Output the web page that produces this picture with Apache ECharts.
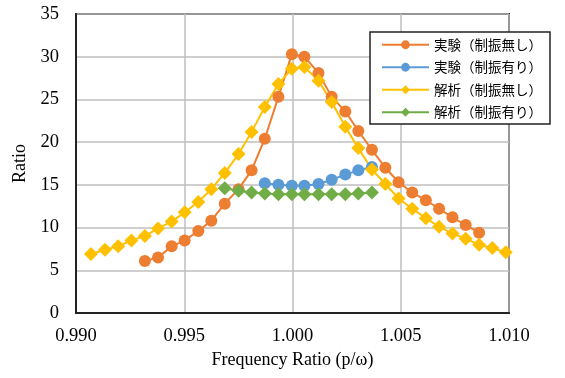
<!DOCTYPE html>
<html>
<head>
<meta charset="utf-8">
<script src="https://cdn.jsdelivr.net/npm/echarts@6/dist/echarts.min.js"></script>
<style>
    html, body { margin: 0; padding: 0; background: #fff; }
    #chart { width: 565px; height: 378px; }
</style>
</head>
<body>
<div id="chart"></div>
<script>
// 周波数比 (p/ω) — 全系列共通の測定点
const freqRatio = [
    0.99069, 0.99134, 0.99195, 0.99256, 0.99318, 0.99379, 0.99442, 0.99502,
    0.99565, 0.99625, 0.99687, 0.99751, 0.99811, 0.99872, 0.99935, 0.99997,
    1.00055, 1.00120, 1.00181, 1.00244, 1.00304, 1.00367, 1.00429, 1.00490,
    1.00553, 1.00616, 1.00677, 1.00739, 1.00800, 1.00862, 1.00923, 1.00985
];

// 実験（制振無し）: freqRatio[4] 〜 freqRatio[29]
const expNoDamp = [
    6.1, 6.5, 7.8, 8.5, 9.6, 10.8, 12.8, 14.5, 16.7, 20.4, 25.3, 30.3, 30.0,
    28.1, 25.3, 23.6, 21.3, 19.1, 17.0, 15.3, 14.1, 13.2, 12.2, 11.2, 10.3, 9.4
];
// 実験（制振有り）: freqRatio[13] 〜 freqRatio[21]
const expDamp = [15.2, 15.0, 14.9, 14.9, 15.1, 15.6, 16.2, 16.7, 17.1];
// 解析（制振無し）: freqRatio[0] 〜 freqRatio[31]
const anaNoDamp = [
    6.9, 7.4, 7.8, 8.5, 9.0, 9.9, 10.7, 11.8, 13.0, 14.5, 16.4, 18.6, 21.2,
    24.1, 26.8, 28.6, 28.8, 27.2, 24.7, 21.8, 19.3, 16.8, 15.1, 13.4, 12.2,
    11.1, 10.1, 9.3, 8.7, 8.0, 7.6, 7.1
];
// 解析（制振有り）: freqRatio[10] 〜 freqRatio[21]
const anaDamp = [14.6, 14.3, 14.1, 14.0, 13.9, 13.9, 13.9, 13.9, 13.9, 13.9, 14.0, 14.1];

const seriesNames = ["実験（制振無し）", "実験（制振有り）", "解析（制振無し）", "解析（制振有り）"];
const seriesStart = [4, 13, 0, 10];
const seriesValues = [expNoDamp, expDamp, anaNoDamp, anaDamp];
const colors = ["#ED7D31", "#5B9BD5", "#FFC000", "#70AD47"];
const symbols = ["circle", "circle", "diamond", "diamond"];

const xTicks = { min: 0.990, max: 1.010, interval: 0.005 };
const yTicks = { min: 0, max: 35, interval: 5 };

const serifFont = "'Liberation Serif', 'Times New Roman', serif";

const pairUp = (start, values) => values.map((v, i) => [freqRatio[start + i], v]);

const chart = echarts.init(document.getElementById("chart"));

const option = {
    animation: false,
    color: colors,
    grid: {
        left: 76,
        right: 56,
        top: 14,
        bottom: 65,
        show: true,
        borderColor: "#222",
        borderWidth: 2
    },
    legend: {
        orient: "vertical",
        left: 370,
        top: 32,
        padding: [6, 8, 5, 11],
        itemWidth: 47,
        itemHeight: 11,
        itemGap: 9,
        backgroundColor: "#fff",
        borderColor: "#222",
        borderWidth: 1.5,
        textStyle: {
            fontFamily: "'Noto Sans CJK JP', sans-serif",
            fontSize: 13.5,
            color: "#000"
        },
        data: seriesNames
    },
    xAxis: {
        type: "value",
        min: xTicks.min,
        max: xTicks.max,
        interval: xTicks.interval,
        name: "Frequency Ratio (p/ω)",
        nameLocation: "middle",
        nameGap: 36,
        nameTextStyle: { fontFamily: serifFont, fontSize: 18, color: "#000" },
        axisLine: { show: true, lineStyle: { color: "#222", width: 2 } },
        axisTick: { show: false },
        axisLabel: {
            fontFamily: serifFont,
            fontSize: 18.5,
            color: "#000",
            margin: 14,
            formatter: v => v.toFixed(3)
        },
        splitLine: { show: true, lineStyle: { color: "#bfbfbf", width: 1.5 } }
    },
    yAxis: {
        type: "value",
        min: yTicks.min,
        max: yTicks.max,
        interval: yTicks.interval,
        name: "Ratio",
        nameLocation: "middle",
        nameGap: 42,
        nameTextStyle: { fontFamily: serifFont, fontSize: 18, color: "#000" },
        axisLine: { show: true, lineStyle: { color: "#222", width: 2 } },
        axisTick: { show: false },
        axisLabel: {
            fontFamily: serifFont,
            fontSize: 18.5,
            color: "#000",
            margin: 17
        },
        splitLine: { show: true, lineStyle: { color: "#bfbfbf", width: 1.5 } }
    },
    series: seriesNames.map((name, k) => ({
        name: name,
        type: "line",
        data: pairUp(seriesStart[k], seriesValues[k]),
        symbol: symbols[k],
        symbolSize: symbols[k] === "circle" ? 12 : 14,
        showAllSymbol: true,
        lineStyle: { color: colors[k], width: 2 },
        itemStyle: { color: colors[k], borderWidth: 0 }
    }))
};

chart.setOption(option);
</script>
</body>
</html>
